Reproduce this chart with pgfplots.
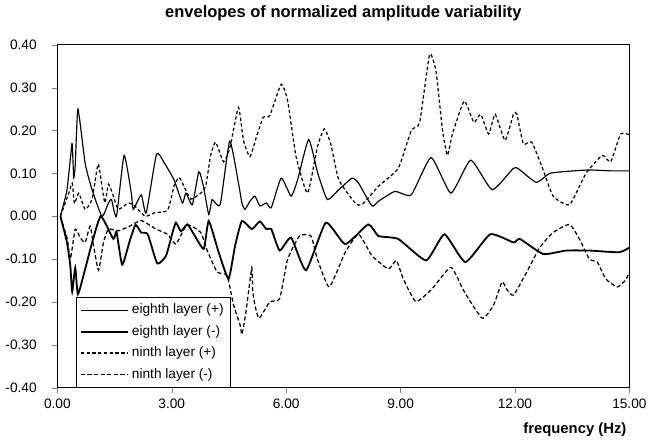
\documentclass[border=0pt]{standalone}
\usepackage{pgfplots}
\pgfplotsset{compat=1.18}
\usepackage{fontspec}
\setmainfont{Liberation Sans}

\begin{document}
\begin{tikzpicture}
\begin{axis}[
  scale only axis,
  width=347pt, height=208pt,
  xmin=0, xmax=15, ymin=-0.4, ymax=0.4,
  xtick={0,3,6,9,12,15},
  ytick={-0.4,-0.3,-0.2,-0.1,0,0.1,0.2,0.3,0.4},
  tick align=outside, major tick length=3pt,
  xtick pos=bottom, ytick pos=left,
  /pgf/number format/assume math mode=true,
  /pgf/number format/.cd, fixed, fixed zerofill, precision=2, /pgfplots/.cd,
  ticklabel style={font=\fontsize{8.3}{10}\selectfont},
  yticklabel style={xshift=-6pt},
  title={\textbf{envelopes of normalized amplitude variability}},
  title style={font=\fontsize{10}{12}\selectfont, yshift=5pt},
  xlabel={\textbf{frequency (Hz)}},
  xlabel style={font=\fontsize{9}{11}\selectfont, at={(axis description cs:1.005,-0.085)}, anchor=north east},
  axis line style={line width=0.6pt},
  legend style={at={(axis description cs:0.033,0)}, anchor=south west,
    font=\fontsize{8.3}{10}\selectfont, draw=black, line width=0.5pt, fill=white,
    row sep=1.5pt, inner sep=2pt},
  legend cell align=left,
  legend image code/.code={\draw[#1] (0cm,0cm) -- (1cm,0cm);},
]
% eighth layer (+)
\addplot[black, line width=0.7pt, smooth, tension=0.3] coordinates {
(0.08,0.0)(0.25,0.06)(0.36,0.15)(0.39,0.169)(0.43,0.09)(0.47,0.12)(0.54,0.25)
(0.73,0.123)(0.91,0.062)(1.17,0.0)(1.34,0.031)(1.42,0.039)(1.55,0.0)(1.75,0.142)
(1.94,0.054)(1.99,0.016)(2.2,0.05)(2.33,0.008)(2.6,0.145)(2.8,0.125)(3.06,0.085)
(3.28,0.031)(3.37,0.054)(3.54,0.027)(3.71,0.104)(3.83,0.07)(3.97,0.004)(4.06,0.039)
(4.27,0.027)(4.52,0.175)(4.75,0.077)(4.84,0.031)(4.92,0.016)(5.05,0.035)(5.18,0.047)
(5.31,0.024)(5.48,0.031)(5.61,0.02)(5.87,0.089)(6.13,0.047)(6.3,0.085)(6.59,0.179)
(6.83,0.1)(7.08,0.039)(7.38,0.062)(7.73,0.089)(7.9,0.077)(8.25,0.024)(8.42,0.035)
(8.85,0.058)(9.28,0.05)(9.8,0.137)(10.32,0.054)(10.84,0.131)(11.4,0.062)(11.96,0.112)
(12.1,0.11)(12.56,0.079)(12.91,0.1)(13.4,0.105)(13.95,0.108)(14.5,0.106)(15.0,0.106)
};
\addlegendentry{eighth layer (+)}
% eighth layer (-)
\addplot[black, line width=1.1pt, smooth, tension=0.3] coordinates {
(0.08,0.0)(0.25,-0.06)(0.34,-0.115)(0.39,-0.176)(0.47,-0.12)(0.54,-0.182)(0.73,-0.123)
(0.91,-0.062)(1.14,0.0)(1.47,-0.053)(1.55,-0.036)(1.7,-0.113)(1.9,-0.057)(2.05,-0.02)
(2.2,-0.038)(2.37,-0.042)(2.62,-0.11)(2.85,-0.092)(3.02,-0.038)(3.11,-0.015)(3.24,-0.035)
(3.41,-0.019)(3.6,-0.045)(3.84,-0.076)(3.97,-0.011)(4.23,-0.084)(4.49,-0.146)(4.66,-0.069)
(4.84,-0.011)(5.1,-0.03)(5.31,-0.012)(5.48,-0.03)(5.61,-0.03)(5.83,-0.08)(6.13,-0.05)
(6.52,-0.126)(7.04,-0.015)(7.55,-0.065)(8.15,-0.019)(8.42,-0.046)(8.94,-0.053)(9.67,-0.103)
(10.15,-0.042)(10.7,-0.107)(11.35,-0.042)(11.96,-0.061)(12.13,-0.053)(12.74,-0.088)
(13.34,-0.08)(13.95,-0.08)(14.73,-0.084)(15.0,-0.073)
};
\addlegendentry{eighth layer (-)}
% ninth layer (+)
\addplot[black, line width=0.75pt, dash pattern=on 2pt off 1.5pt, smooth, tension=0.3] coordinates {
(0.08,0.0)(0.3,0.054)(0.39,0.077)(0.45,0.03)(0.56,0.054)(0.73,0.016)(0.91,0.04)(1.07,0.122)
(1.17,0.07)(1.25,0.031)(1.34,0.075)(1.47,0.047)(1.6,0.016)(1.86,0.031)(2.03,0.024)(2.3,0.0)
(2.55,0.008)(2.89,0.014)(3.06,0.07)(3.19,0.091)(3.32,0.07)(3.5,0.04)(3.76,0.054)(3.89,0.07)
(4.02,0.142)(4.15,0.173)(4.36,0.127)(4.53,0.162)(4.75,0.254)(4.88,0.177)(5.05,0.139)
(5.23,0.188)(5.4,0.231)(5.57,0.235)(5.87,0.308)(6.04,0.269)(6.26,0.139)(6.56,0.054)
(6.82,0.162)(7.0,0.204)(7.17,0.169)(7.38,0.085)(7.81,0.031)(7.99,0.027)(8.42,0.07)
(8.94,0.112)(9.28,0.2)(9.5,0.219)(9.76,0.377)(9.93,0.338)(10.1,0.2)(10.23,0.142)
(10.36,0.192)(10.67,0.269)(10.92,0.219)(11.1,0.238)(11.31,0.192)(11.48,0.238)(11.74,0.177)
(11.96,0.238)(12.05,0.238)(12.22,0.169)(12.44,0.173)(12.74,0.108)(13.0,0.047)(13.43,0.027)
(13.86,0.1)(14.29,0.142)(14.51,0.127)(14.77,0.192)(15.0,0.19)
};
\addlegendentry{ninth layer (+)}
% ninth layer (-)
\addplot[black, line width=0.75pt, dash pattern=on 2.5pt off 1.5pt, smooth, tension=0.3] coordinates {
(0.08,0.0)(0.26,-0.053)(0.34,-0.1)(0.47,-0.03)(0.6,-0.05)(0.73,-0.061)(0.86,-0.023)
(0.95,-0.069)(1.08,-0.126)(1.21,-0.061)(1.34,-0.03)(1.6,-0.034)(1.9,-0.023)(2.2,-0.01)
(2.59,-0.03)(2.89,-0.042)(3.11,-0.065)(3.4,-0.02)(3.76,-0.038)(3.93,-0.08)(4.19,-0.13)
(4.45,-0.138)(4.62,-0.207)(4.79,-0.253)(4.84,-0.276)(4.92,-0.238)(4.98,-0.2)(5.1,-0.12)
(5.12,-0.17)(5.18,-0.207)(5.29,-0.238)(5.57,-0.2)(5.83,-0.192)(6.04,-0.1)(6.35,-0.046)
(6.65,-0.046)(6.82,-0.1)(7.13,-0.165)(7.55,-0.084)(7.9,-0.042)(8.25,-0.092)(8.68,-0.123)
(8.89,-0.103)(9.07,-0.146)(9.4,-0.199)(9.83,-0.169)(10.32,-0.119)(10.67,-0.176)
(11.14,-0.238)(11.44,-0.207)(11.66,-0.153)(11.78,-0.17)(11.96,-0.184)(12.31,-0.13)
(12.65,-0.073)(13.0,-0.038)(13.43,-0.019)(13.69,-0.053)(13.95,-0.1)(14.16,-0.107)
(14.38,-0.146)(14.68,-0.165)(14.9,-0.149)(15.0,-0.13)
};
\addlegendentry{ninth layer (-)}
\end{axis}
\end{tikzpicture}
\end{document}
